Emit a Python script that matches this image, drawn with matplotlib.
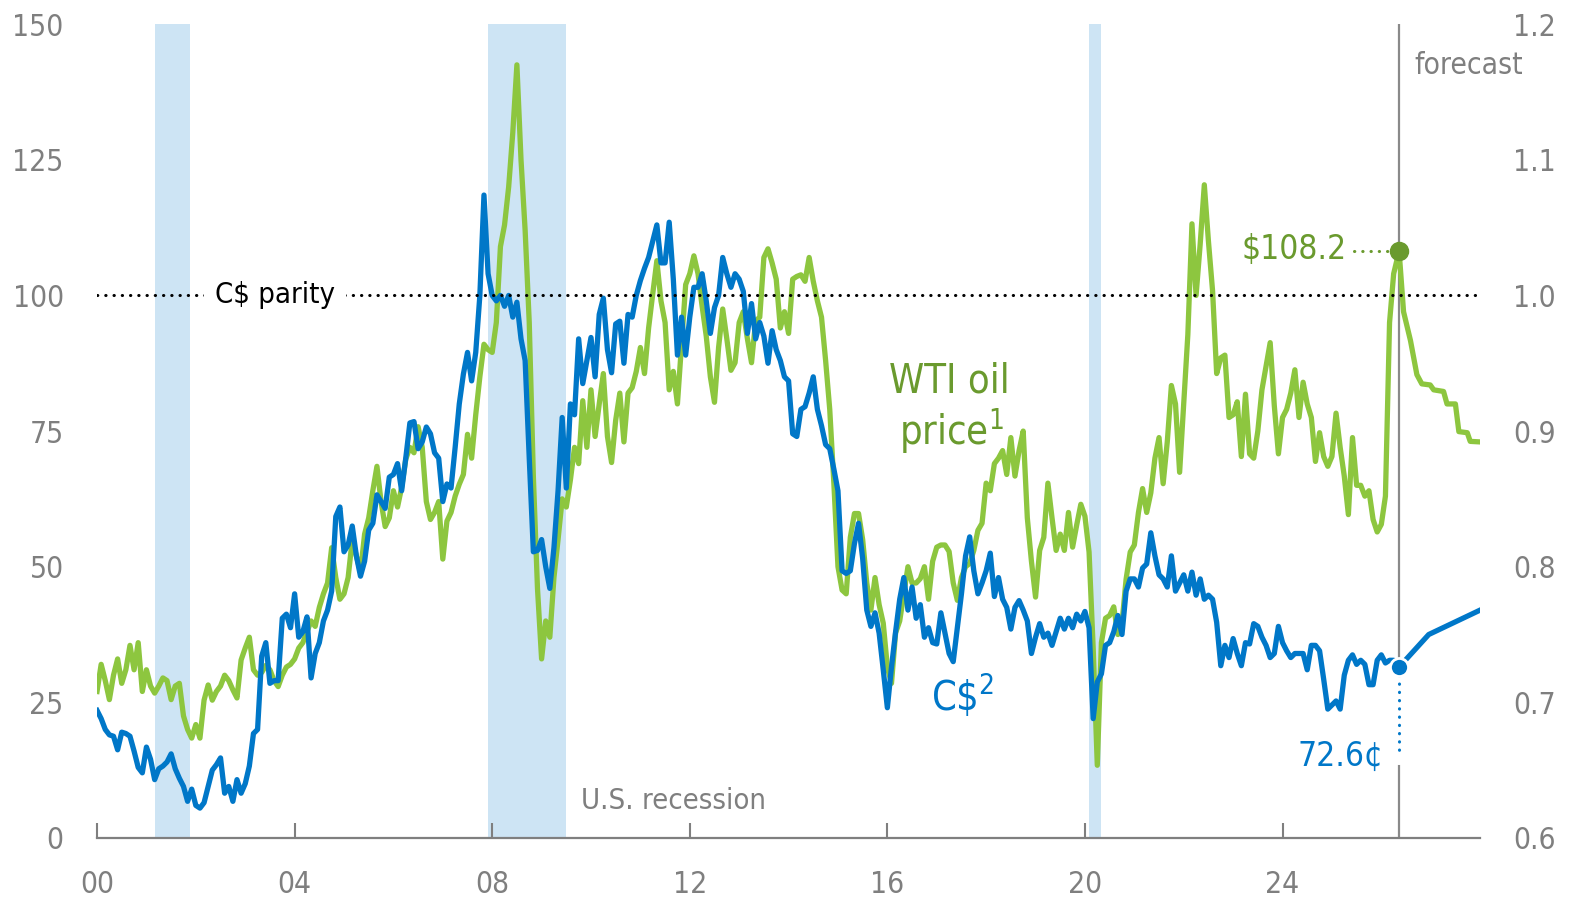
import numpy as np
import matplotlib
matplotlib.use("Agg")
import matplotlib.pyplot as plt
from matplotlib import font_manager

# condensed face if one is installed, otherwise the narrowest sans we have
names = {f.name for f in font_manager.fontManager.ttflist}
stretches = {(f.name, f.stretch) for f in font_manager.fontManager.ttflist}
if ('DejaVu Sans', 'condensed') in stretches or ('DejaVu Sans', 600) in stretches:
    plt.rcParams['font.family'] = ['DejaVu Sans']
    plt.rcParams['font.stretch'] = 'condensed'
elif 'Roboto Condensed' in names:
    plt.rcParams['font.family'] = ['Roboto Condensed', 'DejaVu Sans']
else:
    plt.rcParams['font.family'] = ['Roboto', 'DejaVu Sans']

# WTI oil price, US$ per barrel, monthly from Jan 2000
wti = [
    27, 32, 29, 25.5, 30, 33, 28.5, 31, 35.5, 31, 36, 27,            # 2000
    31, 28, 26.7, 28, 29.5, 29, 25.5, 28, 28.5, 22.5, 20, 18.4,      # 2001
    20.9, 18.4, 25.4, 28.2, 25.4, 27, 28, 30, 29, 27.3, 25.8, 32.8,  # 2002
    35, 37, 31, 30, 30.5, 31.8, 31, 29, 27.9, 30, 31.5, 32,          # 2003
    33, 35, 36, 38, 40, 39, 42.5, 45, 47, 53.5, 48, 44,              # 2004
    45, 48, 55, 52, 49, 56, 59, 64, 68.5, 62, 57.4, 59,              # 2005
    64, 61, 64.6, 69.8, 72, 71, 75.8, 72, 62, 58.7, 60, 62,          # 2006
    51.4, 58.4, 60, 63, 65.2, 67, 74.4, 70, 78, 85, 91, 90,          # 2007
    89.5, 95, 109, 113, 120, 130, 142.5, 125, 112, 95, 66.6, 46,     # 2008
    33, 40, 37, 48, 55, 62.5, 61, 66, 72, 69, 80.6, 72,              # 2009
    82.6, 74, 80, 85.6, 74, 69.2, 77, 82, 73, 82, 83, 86,            # 2010
    90.4, 85.6, 94, 100.3, 106.4, 99, 95, 82.6, 86, 80, 91, 102,     # 2011
    104, 107.3, 104, 98, 92.5, 85, 80.3, 90.4, 97.5, 92, 86.2, 87.6, # 2012
    95, 97, 92, 87.6, 95.3, 96, 107, 108.6, 106, 103, 94, 97,        # 2013
    93, 103, 103.5, 103.8, 102.6, 107, 102.6, 99, 96, 88, 79, 65.4,  # 2014
    50, 45.7, 45, 55.4, 59.8, 59.8, 55, 47, 42, 48, 43, 39.6,        # 2015
    31.5, 28.5, 37.8, 40, 45, 50, 47, 47, 47.8, 50, 44, 51,          # 2016
    53.6, 54, 54, 52.8, 47, 43.8, 48, 50, 50.6, 53, 56.7, 58,        # 2017
    65.4, 64, 69, 70, 71.4, 67, 73.8, 66.7, 71.4, 75, 59, 51,        # 2018
    44.4, 53, 55.4, 65.4, 59, 53, 56, 53, 60, 53.6, 57.7, 61.5,      # 2019
    59.3, 52.7, 35, 13.4, 36, 40.5, 41, 42.6, 37.5, 39.6, 47.7, 52.7, # 2020
    54, 60, 64.4, 60, 63.6, 70, 73.8, 65.3, 73, 83.4, 80, 67.4,      # 2021
    80, 92.8, 113.2, 100, 109.5, 120.4, 110, 100.9, 85.6, 88.5, 89, 77.5,  # 2022
    78, 80.4, 70.3, 81.8, 70.8, 70, 75, 82.6, 86.9, 91.3, 79.7, 70.8,  # 2023
    77.5, 79, 82, 86.3, 77.5, 84, 80, 77.5, 69.4, 74.7, 70.3, 68.5,  # 2024
    70.3, 78.3, 72, 66.7, 59.6, 73.8, 65, 65, 63, 64, 58.7, 56.4,    # 2025
    57.8, 63, 95, 104,                                              # 2026
]

# Canadian dollar, US$ per C$, monthly from Jan 2000
cad = [
    0.694, 0.688, 0.680, 0.676, 0.675, 0.665, 0.678, 0.677, 0.675, 0.664, 0.652, 0.648,  # 2000
    0.667, 0.658, 0.643, 0.651, 0.653, 0.656, 0.662, 0.651, 0.644, 0.638, 0.627, 0.636,  # 2001
    0.624, 0.622, 0.626, 0.638, 0.650, 0.654, 0.659, 0.633, 0.638, 0.627, 0.643, 0.633,  # 2002
    0.640, 0.653, 0.677, 0.680, 0.734, 0.744, 0.714, 0.716, 0.716, 0.762, 0.765, 0.755,  # 2003
    0.780, 0.748, 0.752, 0.763, 0.718, 0.736, 0.744, 0.760, 0.768, 0.782, 0.837, 0.844,  # 2004
    0.811, 0.816, 0.830, 0.808, 0.793, 0.804, 0.827, 0.832, 0.853, 0.848, 0.843, 0.866,  # 2005
    0.868, 0.876, 0.856, 0.880, 0.906, 0.907, 0.887, 0.892, 0.903, 0.898, 0.884, 0.880,  # 2006
    0.848, 0.861, 0.858, 0.888, 0.920, 0.942, 0.958, 0.937, 0.958, 1.000, 1.074, 1.016,  # 2007
    1.000, 0.996, 1.000, 0.992, 1.000, 0.984, 0.995, 0.968, 0.952, 0.880, 0.811, 0.812,  # 2008
    0.820, 0.800, 0.784, 0.814, 0.856, 0.910, 0.858, 0.920, 0.912, 0.968, 0.935, 0.952,  # 2009
    0.969, 0.940, 0.986, 0.998, 0.960, 0.943, 0.979, 0.981, 0.950, 0.986, 0.984, 1.000,  # 2010
    1.011, 1.020, 1.028, 1.040, 1.052, 1.024, 1.024, 1.054, 1.012, 0.956, 0.984, 0.956,  # 2011
    0.984, 1.006, 1.006, 1.016, 0.996, 0.972, 0.991, 1.000, 1.028, 1.016, 1.006, 1.016,  # 2012
    1.012, 1.003, 0.972, 0.994, 0.968, 0.980, 0.970, 0.950, 0.974, 0.960, 0.952, 0.940,  # 2013
    0.937, 0.898, 0.896, 0.916, 0.918, 0.928, 0.940, 0.916, 0.904, 0.890, 0.887, 0.872,  # 2014
    0.856, 0.797, 0.795, 0.797, 0.817, 0.832, 0.806, 0.768, 0.756, 0.766, 0.751, 0.724,  # 2015
    0.696, 0.726, 0.752, 0.776, 0.792, 0.768, 0.785, 0.762, 0.772, 0.748, 0.755, 0.744,  # 2016
    0.743, 0.766, 0.751, 0.736, 0.730, 0.755, 0.780, 0.808, 0.822, 0.797, 0.780, 0.788,  # 2017
    0.797, 0.810, 0.778, 0.792, 0.776, 0.770, 0.754, 0.770, 0.775, 0.768, 0.760, 0.736,  # 2018
    0.748, 0.758, 0.748, 0.751, 0.742, 0.752, 0.762, 0.754, 0.762, 0.755, 0.765, 0.760,  # 2019
    0.767, 0.755, 0.688, 0.715, 0.721, 0.742, 0.744, 0.752, 0.764, 0.750, 0.782, 0.791,  # 2020
    0.791, 0.785, 0.799, 0.802, 0.825, 0.808, 0.794, 0.791, 0.785, 0.808, 0.782, 0.788,  # 2021
    0.794, 0.782, 0.796, 0.779, 0.791, 0.776, 0.779, 0.776, 0.759, 0.727, 0.742, 0.733,  # 2022
    0.747, 0.736, 0.727, 0.744, 0.743, 0.758, 0.756, 0.748, 0.742, 0.733, 0.736, 0.756,  # 2023
    0.744, 0.738, 0.733, 0.736, 0.736, 0.736, 0.724, 0.742, 0.742, 0.738, 0.717, 0.695,  # 2024
    0.698, 0.701, 0.695, 0.720, 0.731, 0.735, 0.728, 0.731, 0.728, 0.713, 0.713, 0.731,  # 2025
    0.735, 0.729, 0.731, 0.731,                                                          # 2026
]

# forecast path
fc_start = 2026.36
wti_fc_dates = [2026.36, 2026.45, 2026.59, 2026.72, 2026.82, 2026.99, 2027.06,
                2027.26, 2027.33, 2027.5, 2027.57, 2027.74, 2027.8, 2028.0]
wti_fc = [108.2, 97, 91.7, 85.4, 83.7, 83.5, 82.6, 82.3, 80, 80, 74.9, 74.7, 73.1, 73]
cad_fc_dates = [2026.36, 2026.96, 2028.0]
cad_fc = [0.726, 0.750, 0.768]

recessions = [(2001.17, 2001.88), (2007.92, 2009.5), (2020.08, 2020.33)]

years = 2000 + np.arange(len(wti)) / 12

GREEN = '#8dc63f'
GREEN_DARK = '#6a9a2e'
BLUE = '#0077c8'
GREY = '#7f7f7f'
BAND = '#cde4f4'
DOTS = (0, (0.1, 2.6))

fig = plt.figure(figsize=(15.83, 9.02), dpi=100)
ax = fig.add_axes([0.0613, 0.0710, 0.8737, 0.9022])
ax2 = ax.twinx()

for s, e in recessions:
    ax.axvspan(s, e, color=BAND, lw=0, zorder=0)

ax.axvline(fc_start, color='#8a8a8a', lw=1.6, zorder=1)

ax.plot(np.r_[years, wti_fc_dates], np.r_[wti, wti_fc], color=GREEN, lw=3.8,
        solid_joinstyle='round', zorder=2)
ax2.plot(np.r_[years, cad_fc_dates], np.r_[cad, cad_fc], color=BLUE, lw=3.8,
         solid_joinstyle='round', zorder=2)

# parity line
ax2.axhline(1.0, color='black', lw=2.2, ls=DOTS, dash_capstyle='round', zorder=3)
ax2.text(2002.39, 1.0, 'C$ parity', fontsize=21, color='black', ha='left', va='center',
         bbox=dict(fc='white', ec='none', pad=8), zorder=4)

# forecast start markers
ax.plot([2025.45, fc_start], [wti_fc[0], wti_fc[0]], color=GREEN_DARK, lw=2.2, ls=DOTS,
        dash_capstyle='round', zorder=3)
ax.plot(fc_start, wti_fc[0], 'o', ms=13, color=GREEN_DARK, zorder=5)
ax.text(2025.29, 108.5, f'${wti_fc[0]:.1f}', fontsize=24, color=GREEN_DARK,
        ha='right', va='center')

ax2.plot([fc_start, fc_start], [cad_fc[0], 0.657], color='white', lw=5, zorder=3)
ax2.plot([fc_start, fc_start], [cad_fc[0], 0.664], color=BLUE, lw=2.2, ls=DOTS,
         dash_capstyle='round', zorder=4)
ax2.plot(fc_start, cad_fc[0], 'o', ms=13, mfc=BLUE, mec='white', mew=2, zorder=5)
ax2.text(2026.04, 0.660, f'{cad_fc[0] * 100:.1f}¢', fontsize=24, color=BLUE,
         ha='right', va='center')

# series labels
ax.text(2017.25, 84.1, 'WTI oil', fontsize=28.5, color=GREEN_DARK, ha='center', va='center')
ax.text(2017.3, 75.0, r'price$^{\mathregular{1}}$', fontsize=28.5, color=GREEN_DARK,
        ha='center', va='center')
ax2.text(2017.52, 0.7045, r'C\$$^{\mathregular{2}}$', fontsize=28.5, color=BLUE,
         ha='center', va='center')
ax.text(2026.66, 142.4, 'forecast', fontsize=21.5, color=GREY, ha='left', va='center')
ax.text(2009.79, 6.9, 'U.S. recession', fontsize=21, color=GREY, ha='left', va='center')

# axes
ax.set_xlim(2000, 2028)
ax.set_ylim(0, 150)
ax2.set_ylim(0.6, 1.2)
ax.set_xticks(range(2000, 2025, 4))
ax.set_xticklabels([f'{y % 100:02d}' for y in range(2000, 2025, 4)])
ax.set_yticks(range(0, 151, 25))
ax2.set_yticks(np.arange(0.6, 1.21, 0.1))
ax2.set_yticklabels([f'{v:.1f}' for v in np.arange(0.6, 1.21, 0.1)])

ax.tick_params(axis='x', direction='in', length=11, width=1.5, color=GREY, pad=23,
               labelcolor=GREY, labelsize=21.5)
ax.tick_params(axis='y', length=0, pad=24, labelcolor=GREY, labelsize=21.5)
ax2.tick_params(axis='y', length=0, pad=24, labelcolor=GREY, labelsize=21.5)

for side in ['top', 'left', 'right']:
    ax.spines[side].set_visible(False)
for side in ax2.spines:
    ax2.spines[side].set_visible(False)
ax.spines['bottom'].set_color(GREY)
ax.spines['bottom'].set_linewidth(1.6)

fig.savefig('out.png', dpi=100)
